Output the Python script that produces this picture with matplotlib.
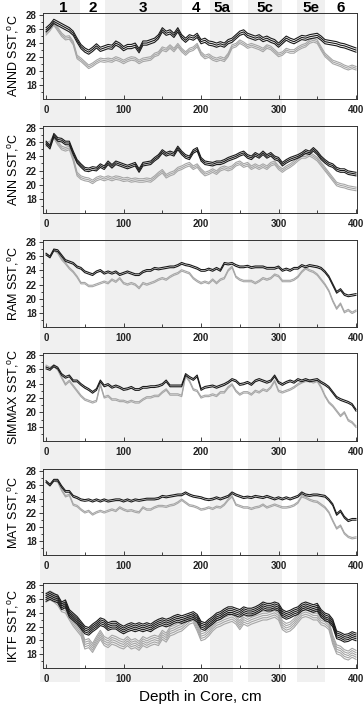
import matplotlib
matplotlib.use('Agg')
import matplotlib.pyplot as plt
import numpy as np

plt.rcParams.update({'font.family': ['Liberation Sans', 'DejaVu Sans'],
                     'mathtext.fontset': 'custom',
                     'mathtext.rm': 'Liberation Sans',
                     'axes.linewidth': 0.7,
                     'axes.edgecolor': '#333333',
                     'figure.facecolor': 'white'})

depth = list(range(0, 401, 5))

# isotope stage boundaries (cm) and names, odd stages are shaded
stage_edges = [-8, 44, 76, 175, 212, 241, 261, 305, 324, 360, 402]
stage_names = ['1', '2', '3', '4', '5a', '', '5c', '', '5e', '6']
stage_shaded = [1, 0, 1, 0, 1, 0, 1, 0, 1, 0]

annd_dark = [25.9, 26.4, 27.1, 26.8, 26.5, 26.2, 25.9, 25.4, 24.4, 23.5,
             23.0, 22.7, 23.1, 23.6, 23.1, 23.3, 23.5, 23.4, 24.0, 23.7,
             23.2, 23.5, 23.5, 23.7, 22.9, 24.0, 24.0, 24.2, 24.4, 24.9,
             25.9, 25.4, 25.6, 25.1, 25.9, 24.9, 24.4, 24.9, 24.7, 25.1,
             24.2, 24.4, 24.0, 23.9, 23.7, 23.9, 23.7, 24.2, 24.4, 24.9,
             25.4, 25.6, 25.1, 24.9, 24.7, 24.9, 24.5, 24.7, 24.4, 24.2,
             23.7, 24.2, 24.7, 24.4, 24.2, 24.5, 24.8, 24.7, 24.9, 25.0,
             25.1, 24.7, 24.2, 24.1, 24.0, 23.9, 23.7, 23.6, 23.4, 23.2,
             23.0]
annd_light = [25.4, 26.0, 26.8, 26.0, 25.2, 24.7, 24.8, 24.0, 22.0, 21.6,
              21.1, 20.6, 20.9, 21.3, 21.6, 21.5, 21.6, 21.5, 21.8, 21.6,
              21.3, 21.6, 21.8, 21.7, 21.3, 21.6, 21.7, 21.8, 22.3, 22.5,
              23.2, 23.0, 23.5, 23.0, 23.7, 23.0, 22.5, 23.0, 23.2, 23.7,
              22.5, 22.0, 22.2, 21.8, 21.6, 21.8, 21.6, 22.3, 23.5, 23.7,
              24.2, 23.9, 23.5, 23.7, 23.5, 23.3, 23.0, 23.5, 23.3, 22.8,
              22.3, 22.5, 23.0, 22.8, 22.8, 23.2, 23.5, 23.7, 24.2, 24.4,
              24.2, 23.2, 22.3, 21.8, 21.3, 21.1, 20.9, 20.6, 20.4, 20.6,
              20.4]

ann_dark = [25.9, 25.3, 27.0, 26.4, 26.3, 25.9, 25.9, 24.5, 23.3, 22.7,
            22.2, 22.1, 22.3, 22.2, 22.7, 22.4, 23.1, 22.6, 23.1, 22.9,
            22.7, 22.5, 22.7, 22.9, 22.0, 22.9, 23.0, 23.1, 23.6, 24.0,
            24.7, 24.3, 24.5, 24.3, 25.2, 24.5, 24.0, 23.8, 24.7, 25.0,
            23.6, 23.1, 23.0, 22.9, 23.1, 23.1, 23.3, 23.6, 23.8, 24.0,
            24.3, 24.5, 24.0, 23.8, 24.3, 24.0, 24.5, 24.0, 24.3, 23.8,
            23.6, 22.9, 23.3, 23.6, 23.8, 24.0, 24.3, 24.7, 24.5, 25.0,
            24.5, 23.8, 23.3, 22.9, 22.7, 22.2, 22.0, 22.0, 21.7, 21.6,
            21.5]
ann_light = [25.7, 25.9, 26.8, 25.9, 25.2, 25.0, 25.2, 23.6, 21.5, 21.0,
             20.8, 20.7, 20.4, 20.8, 21.0, 20.8, 21.0, 20.8, 21.0, 20.9,
             20.7, 20.8, 20.6, 20.7, 20.6, 20.6, 20.7, 20.6, 21.0, 21.5,
             21.9, 21.2, 21.5, 21.7, 22.2, 22.4, 22.7, 22.9, 22.4, 22.7,
             22.0, 21.5, 21.7, 22.0, 21.7, 22.2, 22.4, 22.2, 22.4, 22.9,
             23.1, 22.7, 22.9, 22.4, 22.7, 22.4, 22.7, 22.4, 22.9, 23.1,
             22.4, 22.0, 22.4, 22.7, 23.1, 23.6, 24.0, 24.0, 24.3, 24.0,
             23.6, 22.9, 22.2, 21.5, 20.8, 20.1, 19.9, 19.8, 19.6, 19.5,
             19.4]

ram_dark = [26.3, 25.9, 26.9, 26.8, 26.1, 25.4, 25.2, 25.0, 24.5, 24.3,
            23.8, 23.6, 23.4, 23.8, 24.0, 23.6, 23.8, 23.6, 23.8, 23.4,
            23.6, 23.8, 23.6, 23.4, 23.4, 23.8, 24.0, 24.0, 24.3, 24.2,
            24.3, 24.4, 24.5, 24.5, 24.7, 25.0, 24.8, 24.7, 24.5, 24.3,
            24.0, 24.0, 24.2, 24.0, 24.3, 24.0, 25.0, 24.9, 25.0, 24.7,
            24.5, 24.5, 24.6, 24.4, 24.5, 24.5, 24.5, 24.3, 24.3, 24.3,
            24.5, 24.0, 24.2, 24.0, 24.3, 24.3, 24.7, 24.5, 24.7, 24.6,
            24.5, 24.3, 23.8, 23.1, 22.0, 20.9, 21.3, 20.6, 20.4, 20.5,
            20.6]
ram_light = [26.3, 25.9, 26.9, 26.5, 25.6, 25.0, 24.3, 23.8, 23.1, 22.2,
             22.2, 21.8, 21.8, 22.0, 22.2, 22.4, 22.2, 22.7, 22.4, 22.9,
             22.2, 22.0, 22.2, 22.0, 21.5, 22.2, 22.0, 22.2, 22.4, 22.7,
             22.9, 22.7, 23.1, 23.4, 23.6, 24.0, 23.8, 23.6, 22.9, 22.5,
             22.2, 22.4, 22.2, 22.7, 22.2, 22.7, 22.9, 24.0, 24.5, 23.1,
             22.7, 22.5, 22.5, 22.5, 22.2, 22.5, 22.9, 22.7, 22.9, 23.4,
             23.2, 22.5, 22.5, 22.5, 22.7, 23.1, 23.8, 24.3, 24.0, 23.8,
             23.4, 22.7, 22.0, 21.1, 19.7, 18.6, 19.3, 18.1, 18.4, 18.0,
             18.3]

simmax_dark = [26.2, 26.0, 26.5, 26.2, 25.3, 24.9, 25.1, 24.4, 24.4, 23.9,
               23.5, 23.2, 22.8, 23.2, 24.4, 23.7, 23.9, 23.5, 23.7, 23.5,
               23.2, 23.3, 23.5, 23.2, 23.2, 23.5, 23.5, 23.6, 23.6, 23.7,
               23.9, 24.4, 23.7, 23.7, 23.7, 23.7, 25.3, 24.9, 24.6, 25.1,
               23.2, 23.5, 23.6, 23.7, 23.5, 23.7, 23.9, 24.2, 24.6, 24.4,
               23.9, 24.0, 24.2, 23.9, 24.4, 24.6, 24.4, 24.2, 24.4, 25.1,
               24.2, 23.9, 24.2, 24.4, 24.2, 24.6, 24.4, 24.6, 24.4, 24.5,
               24.6, 24.2, 23.9, 23.5, 22.8, 22.1, 21.8, 21.6, 21.4, 21.1,
               20.3]
simmax_light = [26.5, 26.2, 26.5, 26.0, 24.9, 23.9, 24.4, 23.7, 23.0, 22.3,
                21.8, 21.6, 21.4, 21.6, 23.9, 22.1, 22.3, 21.8, 21.8, 21.6,
                21.6, 21.4, 21.6, 21.4, 21.4, 21.8, 22.1, 22.1, 22.3, 22.3,
                22.8, 23.2, 22.5, 22.5, 22.5, 22.3, 25.1, 24.4, 23.2, 23.0,
                22.1, 22.3, 22.3, 22.5, 22.3, 22.8, 22.8, 23.5, 23.9, 23.0,
                22.5, 22.8, 22.8, 22.5, 23.0, 22.8, 23.2, 23.0, 23.5, 24.4,
                23.0, 22.8, 23.0, 23.2, 23.5, 23.9, 24.2, 24.4, 24.4, 24.2,
                24.4, 23.5, 22.3, 21.4, 20.9, 20.2, 19.5, 20.0, 18.9, 18.6,
                18.0]

mat_dark = [26.5, 26.0, 26.7, 26.7, 25.8, 25.1, 25.1, 24.4, 24.2, 23.9,
            23.8, 23.9, 23.7, 23.9, 23.7, 23.9, 23.7, 23.8, 23.9, 23.9,
            23.7, 23.9, 23.7, 23.9, 23.8, 23.9, 24.0, 24.0, 24.0, 24.1,
            24.4, 24.3, 24.4, 24.5, 24.6, 24.6, 24.9, 24.6, 24.4, 24.3,
            24.2, 24.0, 23.9, 24.0, 24.2, 24.0, 24.2, 24.4, 24.9, 24.6,
            24.4, 24.2, 24.3, 24.2, 24.4, 24.3, 24.2, 24.4, 24.2, 24.0,
            24.2, 24.0, 24.2, 24.0, 24.2, 24.4, 24.9, 24.6, 24.5, 24.6,
            24.6, 24.5, 24.4, 23.9, 23.2, 21.8, 22.3, 21.4, 20.9, 21.1,
            21.1]
mat_light = [26.5, 26.0, 26.7, 26.5, 25.3, 24.4, 24.6, 23.2, 23.0, 22.5,
             22.1, 22.3, 21.8, 22.1, 22.3, 22.1, 22.3, 22.5, 22.3, 22.8,
             22.5, 22.3, 22.4, 22.2, 22.1, 22.8, 22.5, 22.5, 22.8, 23.0,
             23.0, 22.9, 23.1, 23.2, 23.5, 23.9, 23.5, 23.1, 23.0, 22.8,
             22.5, 22.6, 22.8, 22.6, 22.9, 22.8, 23.2, 23.9, 24.4, 23.2,
             23.0, 22.8, 22.8, 22.6, 22.8, 22.9, 23.2, 22.8, 23.0, 23.2,
             23.0, 22.8, 22.8, 22.9, 23.1, 23.5, 24.4, 24.2, 23.9, 23.7,
             23.6, 23.2, 22.8, 22.1, 20.9, 19.8, 20.2, 19.1, 18.6, 18.4,
             18.5]

iktf_dark = [26.2, 26.5, 26.2, 26.0, 25.0, 25.3, 23.9, 23.4, 22.9, 22.2,
             21.5, 21.3, 21.8, 22.2, 22.7, 22.5, 22.0, 22.2, 22.2, 21.8,
             21.5, 21.8, 22.0, 21.8, 22.0, 21.8, 22.0, 21.8, 22.2, 22.5,
             22.7, 22.5, 22.7, 23.0, 23.2, 23.0, 23.2, 23.4, 23.6, 23.2,
             22.2, 22.0, 22.5, 22.9, 23.4, 23.6, 24.0, 24.3, 24.3, 24.1,
             23.9, 24.3, 24.1, 24.1, 24.3, 24.6, 25.0, 24.8, 24.8, 25.0,
             24.8, 23.9, 23.6, 23.8, 24.1, 24.3, 24.8, 25.0, 24.8, 24.6,
             24.8, 23.9, 23.4, 23.2, 22.5, 20.8, 20.6, 20.3, 20.4, 20.7,
             20.5]
iktf_light = [26.2, 26.5, 26.2, 25.7, 24.8, 24.6, 23.6, 22.7, 22.0, 21.3,
              19.4, 19.6, 18.9, 19.9, 20.8, 19.9, 19.6, 20.1, 19.9, 19.6,
              19.4, 19.9, 19.4, 19.6, 19.2, 19.9, 19.6, 19.9, 20.1, 19.9,
              20.8, 20.4, 21.3, 21.5, 21.8, 22.0, 22.5, 23.0, 23.2, 22.0,
              20.6, 20.8, 21.3, 22.0, 22.5, 22.7, 23.0, 23.2, 23.4, 23.0,
              22.2, 23.0, 22.7, 23.0, 23.2, 23.4, 23.6, 23.6, 23.8, 24.0,
              23.6, 22.2, 21.8, 22.0, 22.5, 23.2, 23.9, 24.1, 23.9, 23.6,
              23.6, 22.9, 22.7, 22.2, 20.1, 18.7, 18.5, 18.0, 17.8, 18.2,
              17.9]

panel_labels = ['ANND', 'ANN', 'RAM', 'SIMMAX', 'MAT', 'IKTF']
dark_series = [annd_dark, ann_dark, ram_dark, simmax_dark, mat_dark, iktf_dark]
light_series = [annd_light, ann_light, ram_light, simmax_light, mat_light, iktf_light]
# half width of the bundle of estimates in each panel (deg C)
dark_spread = [0.3, 0.25, 0.12, 0.12, 0.12, 0.55]
light_spread = [0.25, 0.25, 0.1, 0.1, 0.1, 0.65]
n_lines = [3, 3, 2, 2, 2, 5]

W, H = 364., 705.
fig = plt.figure(figsize=(W/100, H/100), dpi=100)

# panel boxes in pixels: (top, bottom)
boxes = [(13, 99), (126, 213), (240, 327), (353, 441), (469, 555), (583, 668)]
left_px, right_px = 43, 357
XMIN, XMAX = -4, 401.3

# background stage bands across the whole figure
bg = fig.add_axes([left_px/W, (H-682)/H, (right_px-left_px)/W, 682/H])
bg.set_xlim(XMIN, XMAX)
bg.set_ylim(0, 1)
bg.axis('off')
for i in range(len(stage_names)):
    if stage_shaded[i]:
        bg.axvspan(stage_edges[i], stage_edges[i+1], color='#f0f0f0', lw=0, clip_on=False)

dark_c = '#1a1a1a'
light_c = '#a6a6a6'

axes = []
for k in range(6):
    top, bot = boxes[k]
    ax = fig.add_axes([left_px/W, (H-bot)/H, (right_px-left_px)/W, (bot-top)/H])
    ax.set_facecolor('none')
    ax.set_xlim(XMIN, XMAX)
    ax.set_ylim(16, 28.3)
    n = n_lines[k]
    offs = np.linspace(-1, 1, n)
    for o in offs:
        ax.plot(depth, np.array(light_series[k]) + o*light_spread[k], color=light_c, lw=0.8)
    for o in offs:
        ax.plot(depth, np.array(dark_series[k]) + o*dark_spread[k], color=dark_c, lw=0.8)
    ax.set_xticks([0, 100, 200, 300, 400])
    ax.set_xticks([50, 150, 250, 350], minor=True)
    ax.set_yticks([18, 20, 22, 24, 26, 28])
    ax.set_yticks([17, 19, 21, 23, 25, 27], minor=True)
    ax.tick_params(axis='x', which='both', direction='in', length=3, width=0.6,
                   labelsize=7, pad=4, colors='#222222')
    ax.tick_params(axis='x', which='minor', length=2)
    ax.tick_params(axis='y', which='both', direction='out', length=3, width=0.6,
                   labelsize=7, pad=1.5, colors='#222222')
    ax.tick_params(axis='y', which='minor', length=1.5)
    for lab in ax.get_xticklabels() + ax.get_yticklabels():
        lab.set_fontweight('bold')
    ax.set_ylabel(panel_labels[k] + r' SST,$^{\mathrm{o}}$C', fontsize=9)
    ax.yaxis.set_label_coords(-0.07, 0.5)
    axes.append(ax)

axes[-1].set_xlabel('Depth in Core, cm', fontsize=11, labelpad=5)

# stage names above the top panel
for i in range(len(stage_names)):
    if stage_names[i]:
        mid = 0.5*(max(stage_edges[i], 0) + min(stage_edges[i+1], 400))
        axes[0].text(mid, 1.06, stage_names[i], transform=axes[0].get_xaxis_transform(),
                     ha='center', va='center', fontsize=11, fontweight='bold')

fig.savefig('out.png', dpi=100)
